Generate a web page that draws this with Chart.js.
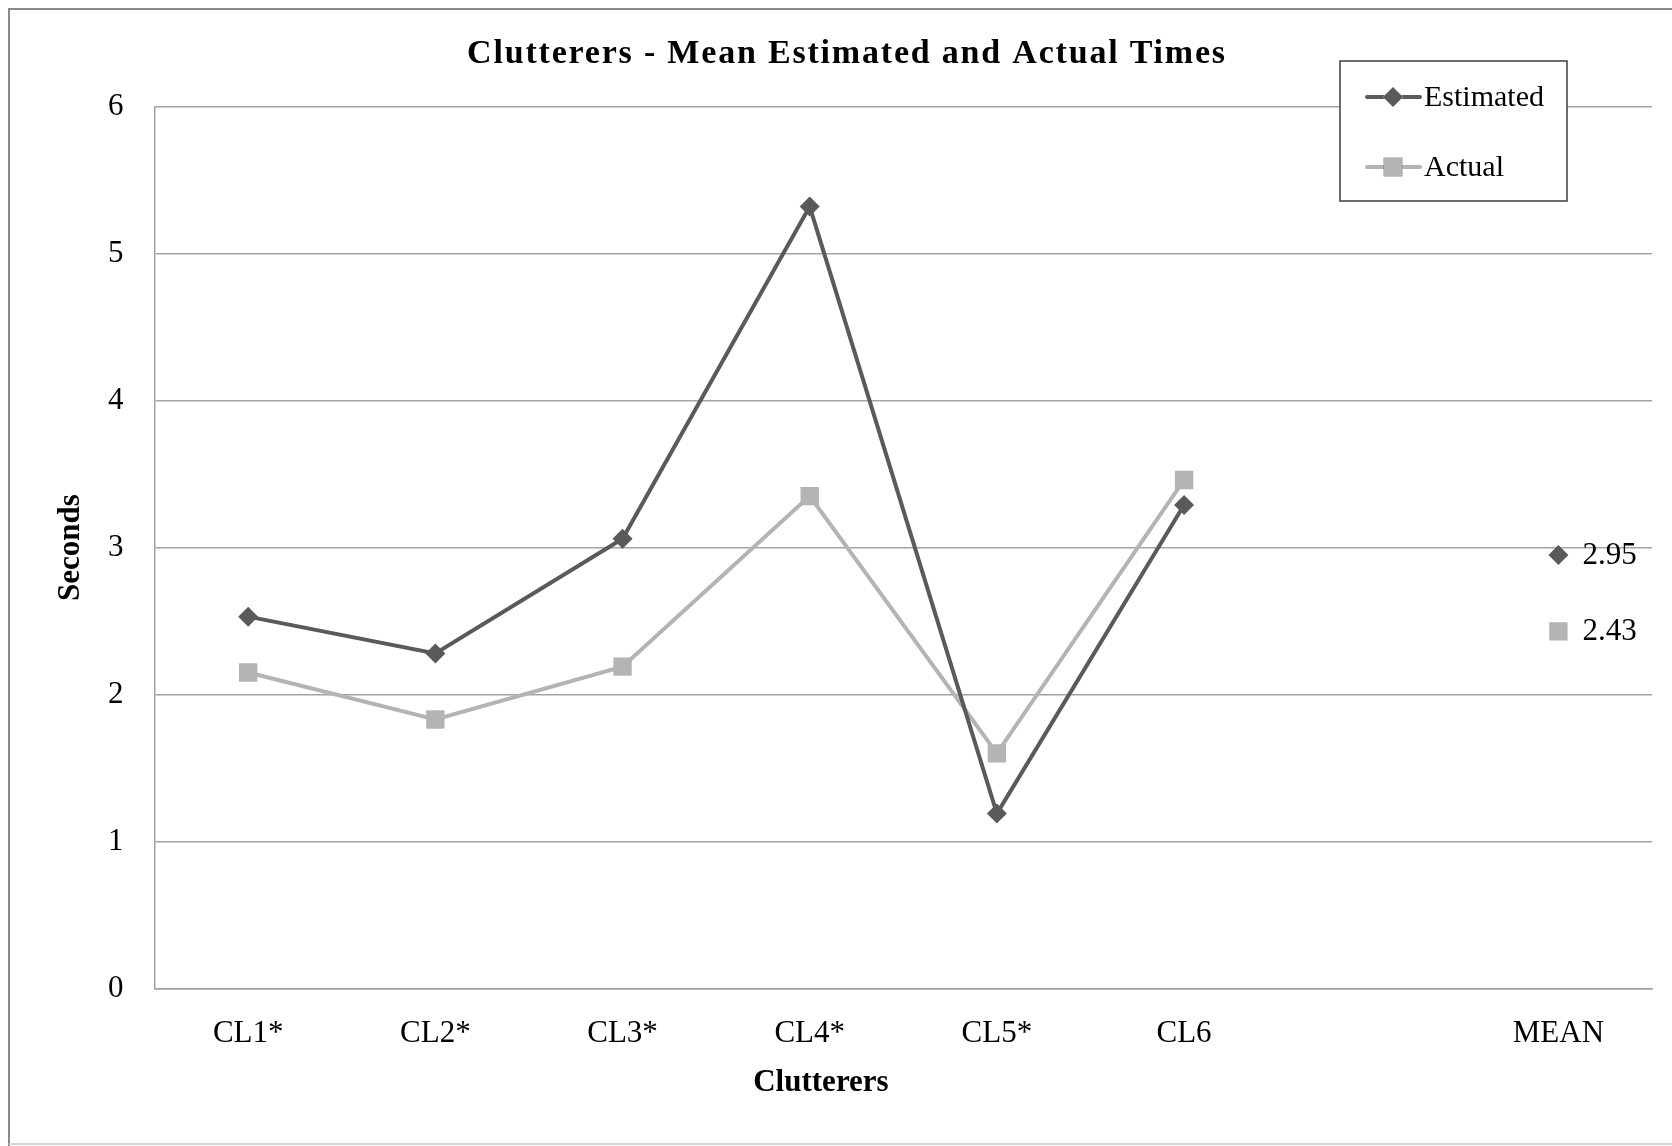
<!DOCTYPE html>
<html>
<head>
<meta charset="utf-8">
<title>Clutterers - Mean Estimated and Actual Times</title>
<script src="https://cdn.jsdelivr.net/npm/chart.js@4.4.1/dist/chart.umd.min.js"></script>
<style>
  html, body { margin: 0; padding: 0; background: #ffffff; }
  #wrap { width: 1672px; height: 1146px; }
</style>
</head>
<body>
<div id="wrap"><canvas id="chart" width="1672" height="1146"></canvas></div>
<script>
// Speakers on the x axis; the empty slot separates the group mean from the individuals
const categories = ['CL1*', 'CL2*', 'CL3*', 'CL4*', 'CL5*', 'CL6', '', 'MEAN'];

// Mean times in seconds per speaker, last entry is the group mean
const estimatedTimes = [2.53, 2.28, 3.06, 5.32, 1.19, 3.29, null, 2.95];
const actualTimes    = [2.15, 1.83, 2.19, 3.35, 1.60, 3.46, null, 2.43];

const yTicks = [0, 1, 2, 3, 4, 5, 6];

const chartTitle = 'Clutterers - Mean Estimated and Actual Times';

const SERIF = "'Liberation Serif', 'Times New Roman', serif";
const DARK = '#5a5a5a';
const LIGHT = '#b4b4b4';
const GRID = '#a3a3a3';

// Frame around the whole figure
const framePlugin = {
  id: 'frame',
  beforeDraw(chart) {
    const ctx = chart.ctx;
    ctx.save();
    ctx.fillStyle = '#ffffff';
    ctx.fillRect(0, 0, chart.width, chart.height);
    ctx.lineWidth = 2;
    ctx.strokeStyle = '#8a8a8a';
    ctx.beginPath();
    ctx.moveTo(9, chart.height);
    ctx.lineTo(9, 9);
    ctx.lineTo(chart.width, 9);
    ctx.stroke();
    ctx.strokeStyle = '#d6d6d6';
    ctx.beginPath();
    ctx.moveTo(9, chart.height - 2);
    ctx.lineTo(chart.width, chart.height - 2);
    ctx.stroke();
    ctx.restore();
  }
};

// Chart heading, slightly letter-spaced
const headingPlugin = {
  id: 'heading',
  afterDraw(chart) {
    const ctx = chart.ctx;
    ctx.save();
    ctx.font = 'bold 34px ' + SERIF;
    ctx.letterSpacing = '1.8px';
    ctx.fillStyle = '#000000';
    ctx.textAlign = 'center';
    ctx.textBaseline = 'middle';
    ctx.fillText(chartTitle, 847, 54);
    ctx.restore();
  }
};

// Value labels next to the group-mean markers
const meanLabelPlugin = {
  id: 'meanLabels',
  afterDatasetsDraw(chart) {
    const ctx = chart.ctx;
    ctx.save();
    ctx.font = '31px ' + SERIF;
    ctx.fillStyle = '#000000';
    ctx.textAlign = 'left';
    ctx.textBaseline = 'middle';
    chart.data.datasets.forEach((ds, i) => {
      const idx = ds.data.length - 1;
      const pt = chart.getDatasetMeta(i).data[idx];
      if (!pt || ds.data[idx] == null) return;
      ctx.fillText(ds.data[idx].toFixed(2), pt.x + 24, pt.y + 1);
    });
    ctx.restore();
  }
};

// X axis title, placed a little left of centre
const xTitlePlugin = {
  id: 'xTitle',
  afterDraw(chart) {
    const a = chart.chartArea;
    const ctx = chart.ctx;
    ctx.save();
    ctx.font = 'bold 31px ' + SERIF;
    ctx.fillStyle = '#000000';
    ctx.textAlign = 'center';
    ctx.textBaseline = 'middle';
    ctx.fillText('Clutterers', a.left + (a.right - a.left) * 0.445, 1083);
    ctx.restore();
  }
};

// Boxed legend in the upper right corner
const legendBoxPlugin = {
  id: 'legendBox',
  afterDraw(chart) {
    const ctx = chart.ctx;
    const box = { x: 1340, y: 61, w: 227, h: 140 };
    ctx.save();
    ctx.fillStyle = '#ffffff';
    ctx.fillRect(box.x, box.y, box.w, box.h);
    ctx.strokeStyle = '#3c3c3c';
    ctx.lineWidth = 1.5;
    ctx.strokeRect(box.x, box.y, box.w, box.h);
    const rows = [97, 167];
    chart.data.datasets.forEach((ds, i) => {
      const y = rows[i];
      ctx.strokeStyle = ds.borderColor;
      ctx.lineWidth = ds.borderWidth;
      ctx.lineCap = 'round';
      ctx.beginPath();
      ctx.moveTo(1367, y);
      ctx.lineTo(1420, y);
      ctx.stroke();
      Chart.helpers.drawPoint(ctx, {
        pointStyle: ds.pointStyle,
        radius: ds.pointRadius,
        borderWidth: 0
      }, 1393, y);
      ctx.fillStyle = ds.pointBackgroundColor;
      ctx.fill();
      ctx.fillStyle = '#000000';
      ctx.font = '30px ' + SERIF;
      ctx.textAlign = 'left';
      ctx.textBaseline = 'middle';
      ctx.fillText(ds.label, 1424, y + 1);
    });
    ctx.restore();
  }
};

new Chart(document.getElementById('chart'), {
  type: 'line',
  data: {
    labels: categories,
    datasets: [
      {
        label: 'Estimated',
        data: estimatedTimes,
        borderColor: DARK,
        backgroundColor: DARK,
        borderWidth: 4,
        pointStyle: 'rectRot',
        pointRadius: 10,
        pointBorderWidth: 0,
        pointBackgroundColor: DARK,
        spanGaps: false,
        tension: 0
      },
      {
        label: 'Actual',
        data: actualTimes,
        borderColor: LIGHT,
        backgroundColor: LIGHT,
        borderWidth: 4,
        pointStyle: 'rect',
        pointRadius: 13,
        pointBorderWidth: 0,
        pointBackgroundColor: LIGHT,
        spanGaps: false,
        tension: 0
      }
    ]
  },
  options: {
    responsive: false,
    animation: false,
    layout: { padding: { left: 40, right: 20, top: 106.6, bottom: 0 } },
    plugins: {
      legend: { display: false },
      tooltip: { enabled: false },
      title: { display: false }
    },
    scales: {
      x: {
        offset: true,
        grid: { display: false, drawTicks: false },
        border: { display: true, color: GRID, width: 1.5 },
        ticks: {
          color: '#000000',
          font: { family: SERIF, size: 31 },
          padding: 27,
          maxRotation: 0,
          autoSkip: false
        },
        afterFit(scale) { scale.height = 1146 - 988.5; }
      },
      y: {
        min: yTicks[0],
        max: yTicks[yTicks.length - 1],
        afterBuildTicks(scale) { scale.ticks = yTicks.map(v => ({ value: v })); },
        grid: { color: GRID, lineWidth: 1.5, drawTicks: false },
        border: { display: true, color: GRID, width: 1.5 },
        ticks: {
          color: '#000000',
          font: { family: SERIF, size: 31 },
          padding: 31
        },
        title: {
          display: true,
          text: 'Seconds',
          color: '#000000',
          font: { family: SERIF, size: 31, weight: 'bold' },
          padding: { top: 12, bottom: 0 }
        },
        afterFit(scale) { scale.width = 114.6; }
      }
    }
  },
  plugins: [framePlugin, headingPlugin, meanLabelPlugin, xTitlePlugin, legendBoxPlugin]
});
</script>
</body>
</html>
